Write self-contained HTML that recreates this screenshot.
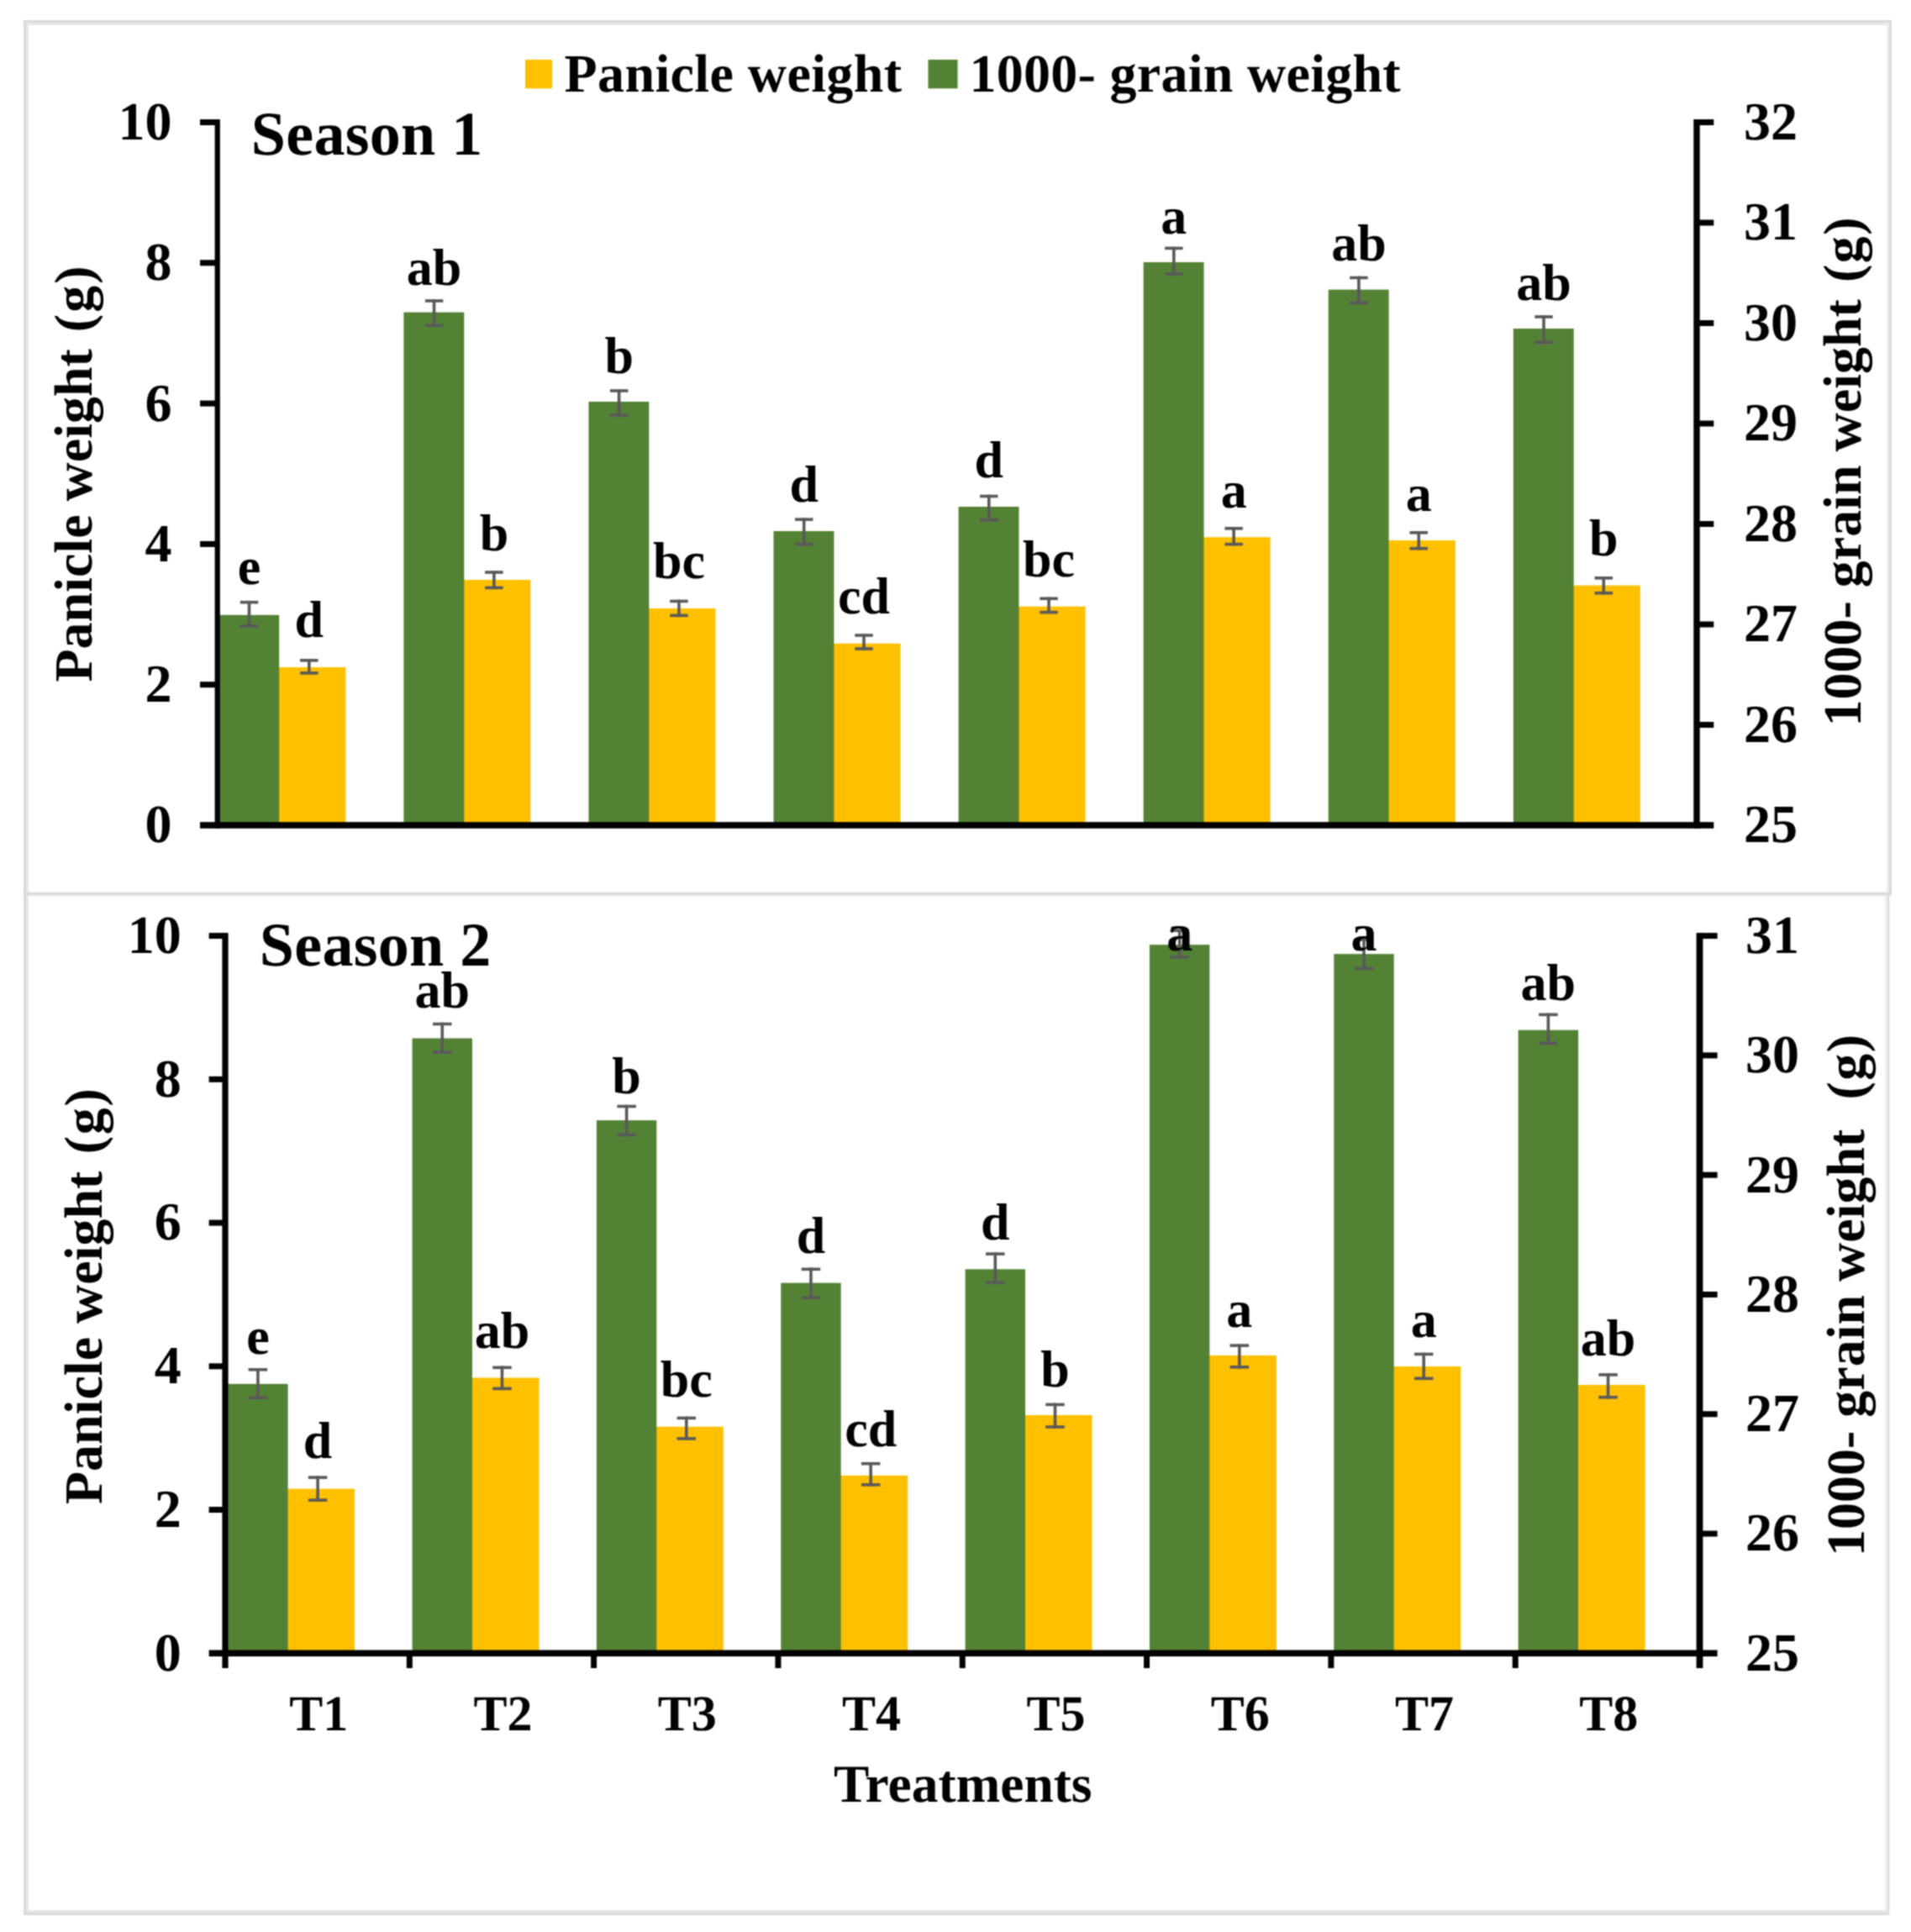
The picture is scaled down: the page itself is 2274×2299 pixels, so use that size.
<!DOCTYPE html>
<html lang="en">
<head>
<meta charset="utf-8">
<title>Panicle weight and 1000-grain weight</title>
<style>
html,body{margin:0;padding:0;background:#fff;}
body{width:2274px;height:2299px;overflow:hidden;}
svg{display:block;}
svg text{font-family:"Liberation Serif","Times New Roman",serif;font-weight:bold;fill:#000;}
</style>
</head>
<body>
<svg width="2274" height="2299" viewBox="0 0 2274 2299" text-rendering="geometricPrecision">
<defs><filter id="soft" color-interpolation-filters="sRGB" x="0" y="0" width="2274" height="2299" filterUnits="userSpaceOnUse"><feConvolveMatrix order="3" kernelMatrix="1 2 1 2 4 2 1 2 1" divisor="16" edgeMode="duplicate" preserveAlpha="true"/></filter></defs>
<rect x="0" y="0" width="2274" height="2299" fill="#fff"/>
<g filter="url(#soft)">
<rect x="0" y="0" width="2274" height="2299" fill="#fff"/>
<rect x="28.00" y="24.00" width="3.00" height="2255.00" fill="#d9d9d9"/>
<rect x="31.00" y="27.00" width="3.00" height="2249.00" fill="#e7e7e7"/>
<rect x="28.00" y="24.00" width="2223.00" height="3.00" fill="#d9d9d9"/>
<rect x="31.00" y="27.00" width="2217.00" height="3.00" fill="#e7e7e7"/>
<rect x="2248.00" y="24.00" width="3.00" height="1041.00" fill="#d9d9d9"/>
<rect x="2245.30" y="27.00" width="2.70" height="1035.00" fill="#ececec"/>
<rect x="31.00" y="1062.00" width="2220.00" height="3.00" fill="#d9d9d9"/>
<rect x="34.00" y="1065.00" width="2211.50" height="2.30" fill="#f3f3f3"/>
<rect x="34.00" y="1059.80" width="2211.30" height="2.20" fill="#fafafa"/>
<rect x="2245.50" y="1065.00" width="2.50" height="1214.00" fill="#d9d9d9"/>
<rect x="2243.00" y="1067.00" width="2.50" height="1209.00" fill="#efefef"/>
<rect x="2248.00" y="1065.00" width="3.00" height="1214.00" fill="#fbfbfb"/>
<rect x="28.00" y="2276.00" width="2220.00" height="3.00" fill="#d9d9d9"/>
<rect x="31.00" y="2273.00" width="2214.50" height="3.00" fill="#e7e7e7"/>
<rect x="324.30" y="794.00" width="87.00" height="188.00" fill="#FFC000"/>
<rect x="260.30" y="731.80" width="71.90" height="250.20" fill="#548235"/>
<rect x="544.37" y="690.00" width="87.00" height="292.00" fill="#FFC000"/>
<rect x="480.37" y="371.60" width="71.90" height="610.40" fill="#548235"/>
<rect x="764.44" y="724.00" width="87.00" height="258.00" fill="#FFC000"/>
<rect x="700.44" y="478.00" width="71.90" height="504.00" fill="#548235"/>
<rect x="984.51" y="765.70" width="87.00" height="216.30" fill="#FFC000"/>
<rect x="920.51" y="632.00" width="71.90" height="350.00" fill="#548235"/>
<rect x="1204.58" y="721.70" width="87.00" height="260.30" fill="#FFC000"/>
<rect x="1140.58" y="603.00" width="71.90" height="379.00" fill="#548235"/>
<rect x="1424.65" y="639.20" width="87.00" height="342.80" fill="#FFC000"/>
<rect x="1360.65" y="312.00" width="71.90" height="670.00" fill="#548235"/>
<rect x="1644.72" y="643.00" width="87.00" height="339.00" fill="#FFC000"/>
<rect x="1580.72" y="344.60" width="71.90" height="637.40" fill="#548235"/>
<rect x="1864.79" y="696.60" width="87.00" height="285.40" fill="#FFC000"/>
<rect x="1800.79" y="391.00" width="71.90" height="591.00" fill="#548235"/>
<rect x="294.70" y="714.90" width="3.60" height="31.90" fill="#595959"/>
<rect x="285.75" y="714.90" width="21.50" height="3.60" fill="#595959"/>
<rect x="285.75" y="743.20" width="21.50" height="3.60" fill="#595959"/>
<rect x="366.00" y="784.00" width="3.60" height="18.70" fill="#595959"/>
<rect x="357.05" y="784.00" width="21.50" height="3.60" fill="#595959"/>
<rect x="357.05" y="799.10" width="21.50" height="3.60" fill="#595959"/>
<rect x="514.77" y="356.20" width="3.60" height="32.90" fill="#595959"/>
<rect x="505.82" y="356.20" width="21.50" height="3.60" fill="#595959"/>
<rect x="505.82" y="385.50" width="21.50" height="3.60" fill="#595959"/>
<rect x="586.07" y="679.20" width="3.60" height="22.00" fill="#595959"/>
<rect x="577.12" y="679.20" width="21.50" height="3.60" fill="#595959"/>
<rect x="577.12" y="697.60" width="21.50" height="3.60" fill="#595959"/>
<rect x="734.84" y="463.20" width="3.60" height="32.60" fill="#595959"/>
<rect x="725.89" y="463.20" width="21.50" height="3.60" fill="#595959"/>
<rect x="725.89" y="492.20" width="21.50" height="3.60" fill="#595959"/>
<rect x="806.14" y="713.60" width="3.60" height="20.60" fill="#595959"/>
<rect x="797.19" y="713.60" width="21.50" height="3.60" fill="#595959"/>
<rect x="797.19" y="730.60" width="21.50" height="3.60" fill="#595959"/>
<rect x="954.91" y="616.30" width="3.60" height="33.10" fill="#595959"/>
<rect x="945.96" y="616.30" width="21.50" height="3.60" fill="#595959"/>
<rect x="945.96" y="645.80" width="21.50" height="3.60" fill="#595959"/>
<rect x="1026.21" y="754.20" width="3.60" height="19.60" fill="#595959"/>
<rect x="1017.26" y="754.20" width="21.50" height="3.60" fill="#595959"/>
<rect x="1017.26" y="770.20" width="21.50" height="3.60" fill="#595959"/>
<rect x="1174.98" y="588.70" width="3.60" height="31.80" fill="#595959"/>
<rect x="1166.03" y="588.70" width="21.50" height="3.60" fill="#595959"/>
<rect x="1166.03" y="616.90" width="21.50" height="3.60" fill="#595959"/>
<rect x="1246.28" y="710.50" width="3.60" height="19.90" fill="#595959"/>
<rect x="1237.33" y="710.50" width="21.50" height="3.60" fill="#595959"/>
<rect x="1237.33" y="726.80" width="21.50" height="3.60" fill="#595959"/>
<rect x="1395.05" y="293.60" width="3.60" height="34.00" fill="#595959"/>
<rect x="1386.10" y="293.60" width="21.50" height="3.60" fill="#595959"/>
<rect x="1386.10" y="324.00" width="21.50" height="3.60" fill="#595959"/>
<rect x="1466.35" y="627.00" width="3.60" height="22.40" fill="#595959"/>
<rect x="1457.40" y="627.00" width="21.50" height="3.60" fill="#595959"/>
<rect x="1457.40" y="645.80" width="21.50" height="3.60" fill="#595959"/>
<rect x="1615.12" y="328.70" width="3.60" height="33.40" fill="#595959"/>
<rect x="1606.17" y="328.70" width="21.50" height="3.60" fill="#595959"/>
<rect x="1606.17" y="358.50" width="21.50" height="3.60" fill="#595959"/>
<rect x="1686.42" y="632.00" width="3.60" height="22.50" fill="#595959"/>
<rect x="1677.47" y="632.00" width="21.50" height="3.60" fill="#595959"/>
<rect x="1677.47" y="650.90" width="21.50" height="3.60" fill="#595959"/>
<rect x="1835.19" y="375.20" width="3.60" height="34.00" fill="#595959"/>
<rect x="1826.24" y="375.20" width="21.50" height="3.60" fill="#595959"/>
<rect x="1826.24" y="405.60" width="21.50" height="3.60" fill="#595959"/>
<rect x="1906.49" y="686.00" width="3.60" height="21.50" fill="#595959"/>
<rect x="1897.54" y="686.00" width="21.50" height="3.60" fill="#595959"/>
<rect x="1897.54" y="703.90" width="21.50" height="3.60" fill="#595959"/>
<rect x="255.60" y="142.00" width="6.20" height="843.80" fill="#000"/>
<rect x="2015.30" y="142.00" width="7.40" height="843.80" fill="#000"/>
<rect x="238.00" y="978.20" width="1801.30" height="7.60" fill="#000"/>
<rect x="238.00" y="142.00" width="20.70" height="7.00" fill="#000"/>
<text x="204.50" y="165.90" font-size="64" text-anchor="end">10</text>
<rect x="238.00" y="309.30" width="20.70" height="7.00" fill="#000"/>
<text x="204.50" y="333.20" font-size="64" text-anchor="end">8</text>
<rect x="238.00" y="476.60" width="20.70" height="7.00" fill="#000"/>
<text x="204.50" y="500.50" font-size="64" text-anchor="end">6</text>
<rect x="238.00" y="643.90" width="20.70" height="7.00" fill="#000"/>
<text x="204.50" y="667.80" font-size="64" text-anchor="end">4</text>
<rect x="238.00" y="811.20" width="20.70" height="7.00" fill="#000"/>
<text x="204.50" y="835.10" font-size="64" text-anchor="end">2</text>
<text x="204.50" y="1002.40" font-size="64" text-anchor="end">0</text>
<rect x="2019.00" y="142.00" width="20.30" height="7.00" fill="#000"/>
<text x="2075.00" y="165.90" font-size="64" text-anchor="start">32</text>
<rect x="2019.00" y="261.50" width="20.30" height="7.00" fill="#000"/>
<text x="2075.00" y="285.40" font-size="64" text-anchor="start">31</text>
<rect x="2019.00" y="381.00" width="20.30" height="7.00" fill="#000"/>
<text x="2075.00" y="404.90" font-size="64" text-anchor="start">30</text>
<rect x="2019.00" y="500.50" width="20.30" height="7.00" fill="#000"/>
<text x="2075.00" y="524.40" font-size="64" text-anchor="start">29</text>
<rect x="2019.00" y="620.00" width="20.30" height="7.00" fill="#000"/>
<text x="2075.00" y="643.90" font-size="64" text-anchor="start">28</text>
<rect x="2019.00" y="739.50" width="20.30" height="7.00" fill="#000"/>
<text x="2075.00" y="763.40" font-size="64" text-anchor="start">27</text>
<rect x="2019.00" y="859.00" width="20.30" height="7.00" fill="#000"/>
<text x="2075.00" y="882.90" font-size="64" text-anchor="start">26</text>
<text x="2075.00" y="1002.40" font-size="64" text-anchor="start">25</text>
<text x="296.50" y="695.30" font-size="62" text-anchor="middle">e</text>
<text x="367.80" y="757.60" font-size="62" text-anchor="middle">d</text>
<text x="516.57" y="339.00" font-size="62" text-anchor="middle">ab</text>
<text x="587.87" y="654.60" font-size="62" text-anchor="middle">b</text>
<text x="736.64" y="443.60" font-size="62" text-anchor="middle">b</text>
<text x="807.94" y="687.50" font-size="62" text-anchor="middle">bc</text>
<text x="956.71" y="596.50" font-size="62" text-anchor="middle">d</text>
<text x="1028.01" y="729.90" font-size="62" text-anchor="middle">cd</text>
<text x="1176.78" y="567.60" font-size="62" text-anchor="middle">d</text>
<text x="1248.08" y="686.00" font-size="62" text-anchor="middle">bc</text>
<text x="1396.85" y="277.80" font-size="62" text-anchor="middle">a</text>
<text x="1468.15" y="604.30" font-size="62" text-anchor="middle">a</text>
<text x="1616.92" y="310.20" font-size="62" text-anchor="middle">ab</text>
<text x="1688.22" y="608.10" font-size="62" text-anchor="middle">a</text>
<text x="1836.99" y="356.90" font-size="62" text-anchor="middle">ab</text>
<text x="1908.29" y="660.90" font-size="62" text-anchor="middle">b</text>
<text x="298.80" y="183.70" font-size="74" text-anchor="start" letter-spacing="0.3">Season 1</text>
<text transform="translate(109.00,811.50) rotate(-90)" font-size="64">Panicle weight <tspan dx="4">(</tspan><tspan dx="2">g</tspan><tspan dx="2">)</tspan></text>
<text transform="translate(2213.80,864.50) rotate(-90)" font-size="64">1000- grain weight <tspan dx="4">(</tspan><tspan dx="1.5">g</tspan><tspan dx="1.5">)</tspan></text>
<rect x="625.00" y="71.00" width="32.00" height="34.30" fill="#FFC000"/>
<text x="671.50" y="108.50" font-size="64" text-anchor="start" letter-spacing="0.4">Panicle weight</text>
<rect x="1104.50" y="71.00" width="35.00" height="34.30" fill="#548235"/>
<text x="1153.50" y="108.50" font-size="64" text-anchor="start" letter-spacing="0.28">1000- grain weight</text>
<rect x="334.10" y="1771.60" width="88.00" height="195.70" fill="#FFC000"/>
<rect x="271.20" y="1646.80" width="71.40" height="320.50" fill="#548235"/>
<rect x="553.45" y="1639.50" width="88.00" height="327.80" fill="#FFC000"/>
<rect x="490.55" y="1235.50" width="71.40" height="731.80" fill="#548235"/>
<rect x="772.80" y="1697.70" width="88.00" height="269.60" fill="#FFC000"/>
<rect x="709.90" y="1333.10" width="71.40" height="634.20" fill="#548235"/>
<rect x="992.15" y="1755.80" width="88.00" height="211.50" fill="#FFC000"/>
<rect x="929.25" y="1526.60" width="71.40" height="440.70" fill="#548235"/>
<rect x="1211.50" y="1683.90" width="88.00" height="283.40" fill="#FFC000"/>
<rect x="1148.60" y="1510.30" width="71.40" height="457.00" fill="#548235"/>
<rect x="1430.85" y="1612.90" width="88.00" height="354.40" fill="#FFC000"/>
<rect x="1367.95" y="1124.20" width="71.40" height="843.10" fill="#548235"/>
<rect x="1650.20" y="1626.00" width="88.00" height="341.30" fill="#FFC000"/>
<rect x="1587.30" y="1135.20" width="71.40" height="832.10" fill="#548235"/>
<rect x="1869.55" y="1648.00" width="88.00" height="319.30" fill="#FFC000"/>
<rect x="1806.65" y="1225.70" width="71.40" height="741.60" fill="#548235"/>
<rect x="305.10" y="1628.00" width="3.60" height="37.20" fill="#595959"/>
<rect x="295.65" y="1628.00" width="22.50" height="3.60" fill="#595959"/>
<rect x="295.65" y="1661.60" width="22.50" height="3.60" fill="#595959"/>
<rect x="376.30" y="1756.30" width="3.60" height="30.60" fill="#595959"/>
<rect x="366.85" y="1756.30" width="22.50" height="3.60" fill="#595959"/>
<rect x="366.85" y="1783.30" width="22.50" height="3.60" fill="#595959"/>
<rect x="524.45" y="1216.70" width="3.60" height="37.20" fill="#595959"/>
<rect x="515.00" y="1216.70" width="22.50" height="3.60" fill="#595959"/>
<rect x="515.00" y="1250.30" width="22.50" height="3.60" fill="#595959"/>
<rect x="595.65" y="1625.50" width="3.60" height="28.70" fill="#595959"/>
<rect x="586.20" y="1625.50" width="22.50" height="3.60" fill="#595959"/>
<rect x="586.20" y="1650.60" width="22.50" height="3.60" fill="#595959"/>
<rect x="743.80" y="1314.70" width="3.60" height="37.50" fill="#595959"/>
<rect x="734.35" y="1314.70" width="22.50" height="3.60" fill="#595959"/>
<rect x="734.35" y="1348.60" width="22.50" height="3.60" fill="#595959"/>
<rect x="815.00" y="1685.60" width="3.60" height="28.10" fill="#595959"/>
<rect x="805.55" y="1685.60" width="22.50" height="3.60" fill="#595959"/>
<rect x="805.55" y="1710.10" width="22.50" height="3.60" fill="#595959"/>
<rect x="963.15" y="1508.50" width="3.60" height="37.50" fill="#595959"/>
<rect x="953.70" y="1508.50" width="22.50" height="3.60" fill="#595959"/>
<rect x="953.70" y="1542.40" width="22.50" height="3.60" fill="#595959"/>
<rect x="1034.35" y="1739.90" width="3.60" height="28.70" fill="#595959"/>
<rect x="1024.90" y="1739.90" width="22.50" height="3.60" fill="#595959"/>
<rect x="1024.90" y="1765.00" width="22.50" height="3.60" fill="#595959"/>
<rect x="1182.50" y="1490.30" width="3.60" height="37.50" fill="#595959"/>
<rect x="1173.05" y="1490.30" width="22.50" height="3.60" fill="#595959"/>
<rect x="1173.05" y="1524.20" width="22.50" height="3.60" fill="#595959"/>
<rect x="1253.70" y="1669.60" width="3.60" height="30.20" fill="#595959"/>
<rect x="1244.25" y="1669.60" width="22.50" height="3.60" fill="#595959"/>
<rect x="1244.25" y="1696.20" width="22.50" height="3.60" fill="#595959"/>
<rect x="1401.85" y="1105.50" width="3.60" height="35.20" fill="#595959"/>
<rect x="1392.40" y="1105.50" width="22.50" height="3.60" fill="#595959"/>
<rect x="1392.40" y="1137.10" width="22.50" height="3.60" fill="#595959"/>
<rect x="1473.05" y="1599.30" width="3.60" height="29.30" fill="#595959"/>
<rect x="1463.60" y="1599.30" width="22.50" height="3.60" fill="#595959"/>
<rect x="1463.60" y="1625.00" width="22.50" height="3.60" fill="#595959"/>
<rect x="1621.20" y="1116.20" width="3.60" height="38.00" fill="#595959"/>
<rect x="1611.75" y="1116.20" width="22.50" height="3.60" fill="#595959"/>
<rect x="1611.75" y="1150.60" width="22.50" height="3.60" fill="#595959"/>
<rect x="1692.40" y="1609.60" width="3.60" height="32.50" fill="#595959"/>
<rect x="1682.95" y="1609.60" width="22.50" height="3.60" fill="#595959"/>
<rect x="1682.95" y="1638.50" width="22.50" height="3.60" fill="#595959"/>
<rect x="1840.55" y="1205.60" width="3.60" height="37.60" fill="#595959"/>
<rect x="1831.10" y="1205.60" width="22.50" height="3.60" fill="#595959"/>
<rect x="1831.10" y="1239.60" width="22.50" height="3.60" fill="#595959"/>
<rect x="1911.75" y="1634.10" width="3.60" height="30.40" fill="#595959"/>
<rect x="1902.30" y="1634.10" width="22.50" height="3.60" fill="#595959"/>
<rect x="1902.30" y="1660.90" width="22.50" height="3.60" fill="#595959"/>
<rect x="264.40" y="1110.10" width="7.20" height="874.90" fill="#000"/>
<rect x="2018.60" y="1110.10" width="7.80" height="874.90" fill="#000"/>
<rect x="248.60" y="1963.50" width="1795.00" height="7.60" fill="#000"/>
<rect x="248.60" y="1110.10" width="19.40" height="7.00" fill="#000"/>
<text x="215.80" y="1134.00" font-size="64" text-anchor="end">10</text>
<rect x="248.60" y="1280.84" width="19.40" height="7.00" fill="#000"/>
<text x="215.80" y="1304.74" font-size="64" text-anchor="end">8</text>
<rect x="248.60" y="1451.58" width="19.40" height="7.00" fill="#000"/>
<text x="215.80" y="1475.48" font-size="64" text-anchor="end">6</text>
<rect x="248.60" y="1622.32" width="19.40" height="7.00" fill="#000"/>
<text x="215.80" y="1646.22" font-size="64" text-anchor="end">4</text>
<rect x="248.60" y="1793.06" width="19.40" height="7.00" fill="#000"/>
<text x="215.80" y="1816.96" font-size="64" text-anchor="end">2</text>
<text x="215.80" y="1987.70" font-size="64" text-anchor="end">0</text>
<rect x="2022.50" y="1110.10" width="21.10" height="7.00" fill="#000"/>
<text x="2077.00" y="1134.00" font-size="64" text-anchor="start">31</text>
<rect x="2022.50" y="1252.38" width="21.10" height="7.00" fill="#000"/>
<text x="2077.00" y="1276.28" font-size="64" text-anchor="start">30</text>
<rect x="2022.50" y="1394.67" width="21.10" height="7.00" fill="#000"/>
<text x="2077.00" y="1418.57" font-size="64" text-anchor="start">29</text>
<rect x="2022.50" y="1536.95" width="21.10" height="7.00" fill="#000"/>
<text x="2077.00" y="1560.85" font-size="64" text-anchor="start">28</text>
<rect x="2022.50" y="1679.23" width="21.10" height="7.00" fill="#000"/>
<text x="2077.00" y="1703.13" font-size="64" text-anchor="start">27</text>
<rect x="2022.50" y="1821.52" width="21.10" height="7.00" fill="#000"/>
<text x="2077.00" y="1845.42" font-size="64" text-anchor="start">26</text>
<text x="2077.00" y="1987.70" font-size="64" text-anchor="start">25</text>
<rect x="483.81" y="1967.30" width="7.00" height="17.70" fill="#000"/>
<rect x="703.12" y="1967.30" width="7.00" height="17.70" fill="#000"/>
<rect x="922.44" y="1967.30" width="7.00" height="17.70" fill="#000"/>
<rect x="1141.75" y="1967.30" width="7.00" height="17.70" fill="#000"/>
<rect x="1361.06" y="1967.30" width="7.00" height="17.70" fill="#000"/>
<rect x="1580.38" y="1967.30" width="7.00" height="17.70" fill="#000"/>
<rect x="1799.69" y="1967.30" width="7.00" height="17.70" fill="#000"/>
<text x="379.16" y="2058.50" font-size="60" text-anchor="middle">T1</text>
<text x="598.47" y="2058.50" font-size="60" text-anchor="middle">T2</text>
<text x="817.78" y="2058.50" font-size="60" text-anchor="middle">T3</text>
<text x="1037.09" y="2058.50" font-size="60" text-anchor="middle">T4</text>
<text x="1256.41" y="2058.50" font-size="60" text-anchor="middle">T5</text>
<text x="1475.72" y="2058.50" font-size="60" text-anchor="middle">T6</text>
<text x="1695.03" y="2058.50" font-size="60" text-anchor="middle">T7</text>
<text x="1914.34" y="2058.50" font-size="60" text-anchor="middle">T8</text>
<text x="306.90" y="1610.70" font-size="62" text-anchor="middle">e</text>
<text x="378.10" y="1735.20" font-size="62" text-anchor="middle">d</text>
<text x="526.25" y="1199.40" font-size="62" text-anchor="middle">ab</text>
<text x="597.45" y="1603.50" font-size="62" text-anchor="middle">ab</text>
<text x="745.60" y="1300.50" font-size="62" text-anchor="middle">b</text>
<text x="816.80" y="1661.70" font-size="62" text-anchor="middle">bc</text>
<text x="964.95" y="1491.20" font-size="62" text-anchor="middle">d</text>
<text x="1036.15" y="1721.00" font-size="62" text-anchor="middle">cd</text>
<text x="1184.30" y="1474.90" font-size="62" text-anchor="middle">d</text>
<text x="1255.50" y="1649.70" font-size="62" text-anchor="middle">b</text>
<text x="1403.65" y="1130.60" font-size="62" text-anchor="middle">a</text>
<text x="1474.85" y="1578.60" font-size="62" text-anchor="middle">a</text>
<text x="1623.00" y="1130.60" font-size="62" text-anchor="middle">a</text>
<text x="1694.20" y="1591.40" font-size="62" text-anchor="middle">a</text>
<text x="1842.35" y="1190.30" font-size="62" text-anchor="middle">ab</text>
<text x="1913.55" y="1613.40" font-size="62" text-anchor="middle">ab</text>
<text x="308.80" y="1148.50" font-size="74" text-anchor="start" letter-spacing="0.3">Season 2</text>
<text x="1145.80" y="2144.00" font-size="63.4" text-anchor="middle">Treatments</text>
<text transform="translate(120.50,1790.00) rotate(-90)" font-size="64">Panicle weight <tspan dx="4.5">(</tspan><tspan dx="1.7">g</tspan><tspan dx="1.7">)</tspan></text>
<text transform="translate(2218.00,1852.00) rotate(-90)" font-size="64">1000- grain weight <tspan dx="19">(</tspan><tspan dx="1.5">g</tspan><tspan dx="1.5">)</tspan></text>
</g>
</svg>
</body>
</html>
